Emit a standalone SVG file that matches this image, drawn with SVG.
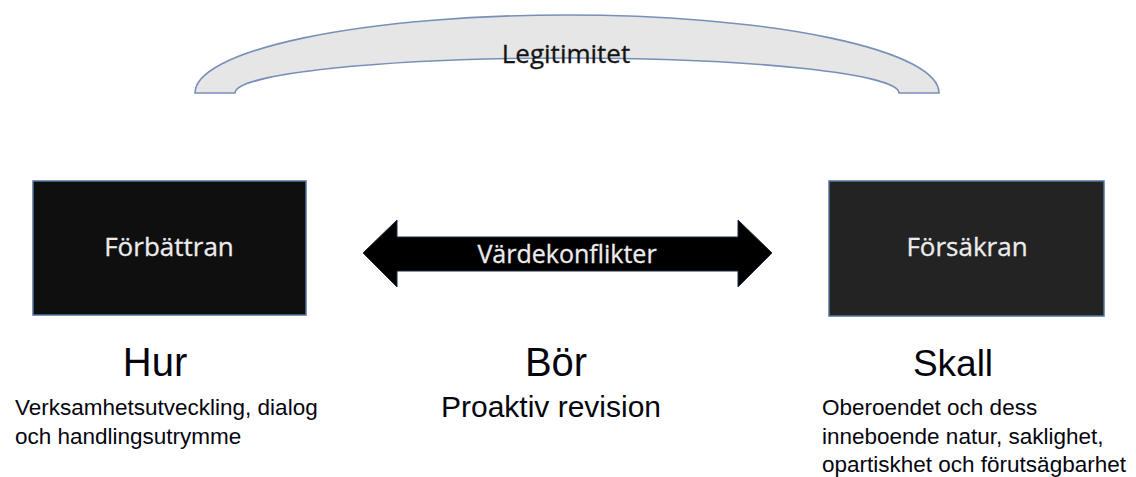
<svg xmlns="http://www.w3.org/2000/svg" width="1136" height="477" viewBox="0 0 1136 477">
  <style>
    .box { stroke: #56739f; stroke-width: 1.5; }
    .boxlabel { font-family: "Open Sans", "Noto Sans", sans-serif; font-size: 26px; fill: #ececec; text-anchor: middle; stroke: #ececec; stroke-width: 0.3; }
    .head { font-family: "Liberation Sans", Arial, sans-serif; font-size: 40px; fill: #05050f; text-anchor: middle; }
    .sub { font-family: "Liberation Sans", Arial, sans-serif; font-size: 30px; fill: #05050f; text-anchor: middle; }
    .body { font-family: "Liberation Sans", Arial, sans-serif; font-size: 22.5px; fill: #05050f; }
  </style>

  <rect width="1136" height="477" fill="#ffffff"/>

  <!-- block arc spanning both sides -->
  <g id="legitimitet">
    <path d="M195,93 A372,78 0 0 1 939,93 L899,93 A332,35 0 0 0 235,93 Z" fill="#e6e6e6" stroke="#7890b8" stroke-width="1.6"/>
    <text x="566" y="63" font-family="Open Sans, Noto Sans, sans-serif" font-size="26" fill="#151515" stroke="#151515" stroke-width="0.3" text-anchor="middle">Legitimitet</text>
  </g>

  <g id="forbattran">
    <rect class="box" x="33" y="181" width="273" height="134" fill="#0f0f0f"/>
    <text class="boxlabel" x="169" y="256">Förbättran</text>
  </g>

  <g id="forsakran">
    <rect class="box" x="829" y="181" width="275" height="135" fill="#232323"/>
    <text class="boxlabel" x="967" y="256">Försäkran</text>
  </g>

  <!-- connector: two-headed block arrow -->
  <g id="connectors">
    <path d="M363,253 L397,220 L397,237 L738,237 L738,220 L772,253 L738,287 L738,271 L397,271 L397,287 Z" fill="#000000" stroke="#1a2a44" stroke-width="1"/>
    <text class="boxlabel" x="567" y="263" style="font-size:25px">Värdekonflikter</text>
  </g>

  <g id="hur">
    <text class="head" x="155" y="376">Hur</text>
    <text class="body" x="15" y="415">Verksamhetsutveckling, dialog</text>
    <text class="body" x="15" y="444">och handlingsutrymme</text>
  </g>

  <g id="bor">
    <text class="head" x="556" y="376">Bör</text>
    <text class="sub" x="551" y="417">Proaktiv revision</text>
  </g>

  <g id="skall">
    <text class="head" x="953" y="376" style="font-size:37px">Skall</text>
    <text class="body" x="822" y="415">Oberoendet och dess</text>
    <text class="body" x="822" y="444">inneboende natur, saklighet,</text>
    <text class="body" x="822" y="472">opartiskhet och förutsägbarhet</text>
  </g>
</svg>
